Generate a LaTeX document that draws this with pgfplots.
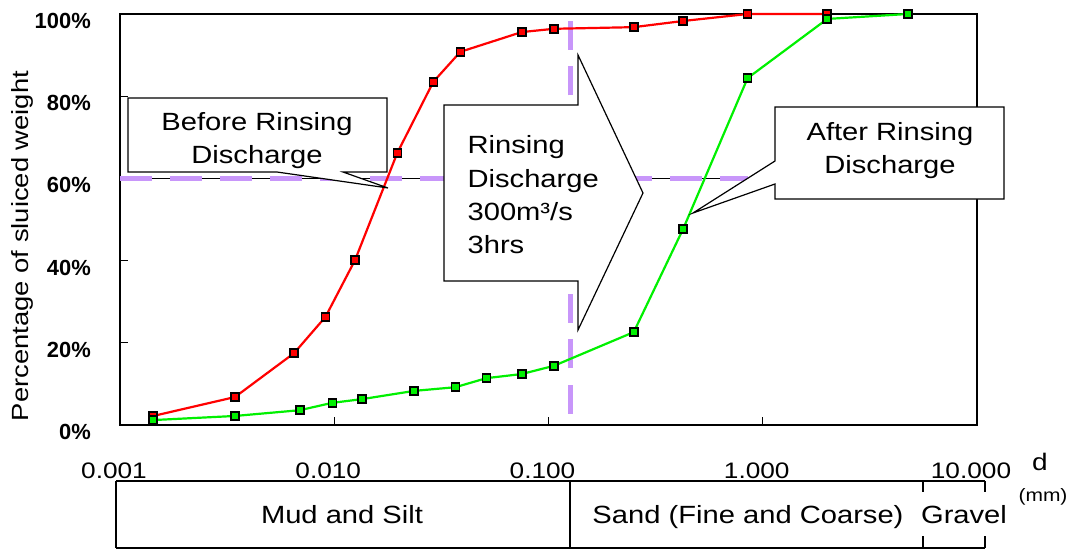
\documentclass[border=0pt]{standalone}
\usepackage{pgfplots}
\pgfplotsset{compat=1.18}
\usepackage{pgfplotstable}
\usepackage{fontspec}
\setmainfont{Liberation Sans}[FakeStretch=1.17]
\newfontfamily\ytickfont{Liberation Sans}[BoldFont={Liberation Sans Bold}]

\definecolor{lavender}{RGB}{200,150,250}
\definecolor{ptred}{RGB}{255,0,0}
\definecolor{ptgreen}{RGB}{0,240,0}

% grain size distribution, d in mm, cumulative passing in %
\pgfplotstableread{
d pct
0.00143 2.2
0.00344 6.8
0.0065 17.5
0.0091 26.3
0.0125 40.1
0.0197 66.2
0.029 83.5
0.0388 90.8
0.075 95.6
0.106 96.4
0.25 96.8
0.425 98.3
0.85 100
2.0 100
}\beforerinse

\pgfplotstableread{
d pct
0.00143 1.2
0.00344 2.2
0.0069 3.6
0.0098 5.4
0.0135 6.3
0.0236 8.3
0.0368 9.2
0.0513 11.4
0.075 12.4
0.106 14.4
0.25 22.6
0.425 47.7
0.85 84.4
2.0 98.8
4.75 100
}\afterrinse

\newcommand\callfont{\fontsize{25}{30}\selectfont}

\begin{document}
\begin{tikzpicture}
\useasboundingbox (0,0) rectangle (1070bp,-550bp);
\begin{axis}[
  at={(120bp,-425bp)}, anchor=south west,
  scale only axis, width=857bp, height=411bp,
  xmode=log, xmin=0.001, xmax=10, ymin=0, ymax=100,
  clip=false,
  axis line style={line width=1.8bp},
  tick align=inside, xtick pos=bottom, ytick pos=left,
  major tick length=8bp,
  tick style={line width=0.9bp, black},
  minor tick num=0, xminorticks=false,
  xtick={0.001,0.01,0.1,1,10},
  xticklabels={0.001,0.010,0.100,1.000,10.000},
  ytick={0,20,40,60,80,100},
  yticklabels={0\%,20\%,40\%,60\%,80\%,100\%},
  xticklabel style={font=\fontsize{22.5}{26}\selectfont, anchor=base, inner sep=0pt, yshift=-53bp, xshift=-6bp},
  yticklabel style={font=\ytickfont\bfseries\fontsize{22}{26}\selectfont, anchor=east, inner sep=0pt, xshift=-29bp, yshift=-7bp},
  every axis y label/.style={at={(axis description cs:-0.1144,0.4355)}, anchor=center, rotate=90,
    font=\fontsize{23.5}{28}\selectfont},
  ylabel={Percentage of sluiced weight},
]
% reference lines: 60 % passing and the silt / sand boundary
\addplot[black, line width=0.8bp] coordinates {(0.001,60) (0.851,60)};
\addplot[lavender, line width=4.5bp, dash pattern=on 32bp off 18bp] coordinates {(0.001,60) (0.851,60)};
\addplot[lavender, line width=4.5bp, dash pattern=on 29bp off 16.5bp] coordinates {(0.1268,2.7) (0.1268,100)};

\addplot[ptred, line width=2.2bp, mark=square*,
  mark options={mark size=4bp, fill=ptred, draw=black, line width=1.6bp, solid}]
  table[x=d, y=pct] {\beforerinse};
\addplot[ptgreen, line width=2.2bp, mark=square*,
  mark options={mark size=4bp, fill=ptgreen, draw=black, line width=1.6bp, solid}]
  table[x=d, y=pct] {\afterrinse};
\end{axis}

\begin{scope}[x=1bp, y=-1bp, line width=1.2bp]
  % callout: before rinsing
  \filldraw[fill=white, draw=black] (128,98) -- (387,98) -- (387,172) -- (343,172)
    -- (388,188) -- (277,172) -- (128,172) -- cycle;
  \node[anchor=base, font=\callfont, inner sep=0pt] at (257,130) {Before Rinsing};
  \node[anchor=base, font=\callfont, inner sep=0pt] at (257,163) {Discharge};

  % block arrow: rinsing discharge
  \filldraw[fill=white, draw=black] (444,105) -- (578,105) -- (578,55) -- (643,193)
    -- (578,330) -- (578,281) -- (444,281) -- cycle;
  \node[anchor=base west, font=\callfont, inner sep=0pt] at (467,153) {Rinsing};
  \node[anchor=base west, font=\callfont, inner sep=0pt] at (467,187) {Discharge};
  \node[anchor=base west, font=\callfont, inner sep=0pt] at (467,220) {300m³/s};
  \node[anchor=base west, font=\callfont, inner sep=0pt] at (467,253) {3hrs};

  % callout: after rinsing
  \filldraw[fill=white, draw=black] (775,107) -- (1004,107) -- (1004,199) -- (775,199)
    -- (775,184) -- (693,213) -- (775,161) -- cycle;
  \node[anchor=base, font=\callfont, inner sep=0pt] at (890,140) {After Rinsing};
  \node[anchor=base, font=\callfont, inner sep=0pt] at (890,173) {Discharge};

  % soil classification strip
  \begin{scope}[line width=1.8bp]
    \draw (116,481) -- (985,481);
    \draw (116,548) -- (985,548);
    \draw (116,481) -- (116,548);
    \draw (570,481) -- (570,548);
    \draw (923,481) -- (923,492) (923,536) -- (923,548);
    \draw (985,481) -- (985,492) (985,536) -- (985,548);
  \end{scope}
  \node[anchor=base, font=\callfont, inner sep=0pt] at (342,523) {Mud and Silt};
  \node[anchor=base, font=\callfont, inner sep=0pt] at (748,523) {Sand (Fine and Coarse)};
  \node[anchor=base, font=\callfont, inner sep=0pt] at (964,523) {Gravel};

  \node[font=\fontsize{24}{28}\selectfont, inner sep=0pt] at (1040,462) {d};
  \node[font=\fontsize{18}{21}\selectfont, inner sep=0pt] at (1043,497) {(mm)};
\end{scope}
\end{tikzpicture}
\end{document}
